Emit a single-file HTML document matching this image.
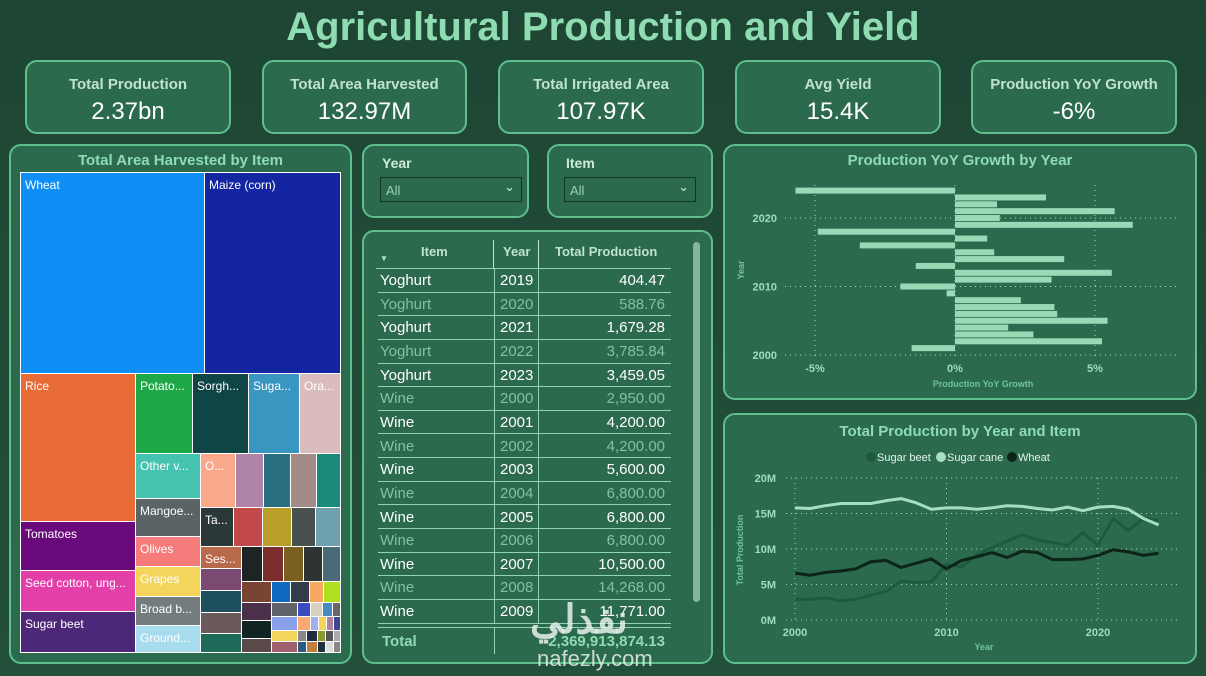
<!DOCTYPE html>
<html><head><meta charset="utf-8"><style>
*{box-sizing:border-box;margin:0;padding:0}
body{width:1206px;height:676px;overflow:hidden;background:linear-gradient(#1e4533,#23503b);font-family:"Liberation Sans","Noto Sans CJK SC",sans-serif;position:relative}
.abs{position:absolute}
.panel{position:absolute;background:#2c6a4e;border:2.5px solid #5fbf8c;border-radius:12px}
.kl{position:absolute;left:0;right:0;top:14px;text-align:center;color:#bfe3cc;font-weight:bold;font-size:15px}
.kv{position:absolute;left:0;right:0;top:36px;text-align:center;color:#fff;font-size:24px}
.ptitle{position:absolute;left:0;right:0;text-align:center;color:#8fdcb3;font-weight:bold;font-size:15px}
.tm{position:absolute;border:1px solid #fff;color:#fff;font-size:12px;padding:5px 0 0 4px;overflow:hidden;white-space:nowrap}
.row{position:absolute;left:378px;width:293px;height:23.6px;border-bottom:1px solid #8fd6b0;font-size:15px}
.row span{position:absolute;top:3px}
.sl{position:absolute;color:#cfe9da;font-weight:bold;font-size:14px}
.dd{position:absolute;border:1px solid #123326;background:#2c6a4e;color:#9fcfb5;font-size:13px;padding:5px 0 0 5px}
</style></head><body>
<div class="abs" style="left:0;width:1206px;top:5px;text-align:center;color:#8fdcb3;font-weight:bold;font-size:40px">Agricultural Production and Yield</div>

<div class="panel" style="left:25px;top:60px;width:206px;height:74px"><div class="kl">Total Production</div><div class="kv">2.37bn</div></div>
<div class="panel" style="left:262px;top:60px;width:205px;height:74px"><div class="kl">Total Area Harvested</div><div class="kv">132.97M</div></div>
<div class="panel" style="left:498px;top:60px;width:206px;height:74px"><div class="kl">Total Irrigated Area</div><div class="kv">107.97K</div></div>
<div class="panel" style="left:735px;top:60px;width:206px;height:74px"><div class="kl">Avg Yield</div><div class="kv">15.4K</div></div>
<div class="panel" style="left:971px;top:60px;width:206px;height:74px"><div class="kl">Production YoY Growth</div><div class="kv">-6%</div></div>

<div class="panel" style="left:9px;top:144px;width:343px;height:520px"><div class="ptitle" style="top:6px">Total Area Harvested by Item</div></div>
<div id="tm"></div>

<div class="panel" style="left:362px;top:144px;width:167px;height:74px"></div>
<div class="sl" style="left:382px;top:155px">Year</div>
<div class="dd" style="left:380px;top:177px;width:142px;height:25px">All<span style="position:absolute;right:6px;top:1px;color:#cfe9da">&#8964;</span></div>
<div class="panel" style="left:547px;top:144px;width:166px;height:74px"></div>
<div class="sl" style="left:566px;top:155px">Item</div>
<div class="dd" style="left:564px;top:177px;width:132px;height:25px">All<span style="position:absolute;right:6px;top:1px;color:#cfe9da">&#8964;</span></div>

<div class="panel" style="left:362px;top:230px;width:351px;height:434px"></div>
<div class="abs" style="left:376px;top:240px;width:295px;height:29px;border-bottom:1px solid #8fd6b0;color:#bfe3cc;font-weight:bold;font-size:13px">
<span class="abs" style="left:45px;top:4px">Item</span><span class="abs" style="left:4px;top:14px;font-size:8px">&#9660;</span>
<span class="abs" style="left:117px;top:0;height:29px;border-left:1px solid #bfe3cc"></span>
<span class="abs" style="left:127px;top:4px">Year</span>
<span class="abs" style="left:162px;top:0;height:29px;border-left:1px solid #bfe3cc"></span>
<span class="abs" style="left:179px;top:4px">Total Production</span>
</div>
<div id="rows"></div>
<div class="abs" style="left:494px;top:269px;width:1px;height:355px;background:#8fd6b0"></div>
<div class="abs" style="left:538px;top:269px;width:1px;height:355px;background:#8fd6b0"></div>
<div class="abs" style="left:378px;top:627px;width:293px;height:28px;border-top:1px solid #8fd6b0;color:#8fdcb3;font-weight:bold;font-size:15px"><span class="abs" style="left:4px;top:5px">Total</span><span class="abs" style="left:116px;top:0;height:26px;border-left:1px solid #8fd6b0"></span><span class="abs" style="right:6px;top:5px">2,369,913,874.13</span></div>
<div class="abs" style="left:693px;top:242px;width:7px;height:360px;border-radius:4px;background:#9cc9b2;opacity:.8"></div>
<div class="abs" style="left:530px;top:600px;color:rgba(230,240,235,.85);font-weight:bold;font-size:40px;line-height:40px">نفذلي</div>
<div class="abs" style="left:537px;top:648px;color:rgba(230,240,235,.85);font-size:22px;line-height:22px">nafezly.com</div>

<div class="panel" style="left:723px;top:144px;width:474px;height:256px"><div class="ptitle" style="top:6px">Production YoY Growth by Year</div></div>
<svg id="bar" class="abs" style="left:0;top:0" width="1206" height="676"></svg>
<div class="panel" style="left:723px;top:413px;width:474px;height:251px"><div class="ptitle" style="top:8px">Total Production by Year and Item</div></div>
<svg id="line" class="abs" style="left:0;top:0" width="1206" height="676"></svg>

<script>
const NS="http://www.w3.org/2000/svg";
// ---- bar chart data ----
const yoyYears=[2001,2002,2003,2004,2005,2006,2007,2008,2009,2010,2011,2012,2013,2014,2015,2016,2017,2018,2019,2020,2021,2022,2023,2024];
const yoyValues=[-1.55,5.25,2.8,1.9,5.45,3.65,3.55,2.35,-0.3,-1.95,3.45,5.6,-1.4,3.9,1.4,-3.4,1.15,-4.9,6.35,1.6,5.7,1.5,3.25,-5.7];
const yoyXTicks=[-5,0,5];
const yoyXLabels=["-5%","0%","5%"];
const yoyYTicks=[2000,2010,2020];
// ---- line chart data ----
const lineYears=[2000,2001,2002,2003,2004,2005,2006,2007,2008,2009,2010,2011,2012,2013,2014,2015,2016,2017,2018,2019,2020,2021,2022,2023,2024];
const sugarBeet=[2.9,2.9,3.1,2.7,2.9,3.5,4.0,5.5,5.3,5.4,7.8,7.5,9.2,10.2,11.1,12.0,11.3,10.9,10.5,12.3,10.5,14.3,12.6,14.3,14.0];
const sugarCane=[15.8,15.7,16.1,16.4,16.4,16.4,16.8,17.1,16.5,15.6,15.8,15.8,15.6,15.8,16.1,16.0,15.7,15.5,15.9,15.4,15.9,16.0,15.6,14.3,13.4];
const wheat=[6.6,6.3,6.7,6.9,7.2,8.2,8.4,7.4,8.0,8.6,7.2,8.4,8.9,9.5,8.8,9.7,9.5,8.5,8.5,8.6,9.1,9.9,9.6,9.1,9.4];
const lineYTicks=[0,5,10,15,20];
const lineXTicks=[2000,2010,2020];
const seriesNames=["Sugar beet","Sugar cane","Wheat"];
// ---- table data ----
const tItems=["Yoghurt","Yoghurt","Yoghurt","Yoghurt","Yoghurt","Wine","Wine","Wine","Wine","Wine","Wine","Wine","Wine","Wine","Wine"];
const tYears=[2019,2020,2021,2022,2023,2000,2001,2002,2003,2004,2005,2006,2007,2008,2009];
const tValues=["404.47","588.76","1,679.28","3,785.84","3,459.05","2,950.00","4,200.00","4,200.00","5,600.00","6,800.00","6,800.00","6,800.00","10,500.00","14,268.00","11,771.00"];

function el(t,a,p){const e=document.createElementNS(NS,t);for(const k in a)e.setAttribute(k,a[k]);p.appendChild(e);return e;}

// bar chart
(function(){
 const s=document.getElementById('bar');
 const x=v=>955+v*28.0, y=yr=>355-(yr-2000)*6.85;
 yoyXTicks.forEach((t,i)=>{el('line',{x1:x(t),x2:x(t),y1:185,y2:357,stroke:'#9fd8b8','stroke-dasharray':'1 4'},s);
  const tx=el('text',{x:x(t),y:372,'text-anchor':'middle',fill:'#9fdcba','font-size':11,'font-weight':'bold','font-family':'Liberation Sans'},s);tx.textContent=yoyXLabels[i];});
 yoyYTicks.forEach(t=>{el('line',{x1:785,x2:1178,y1:y(t),y2:y(t),stroke:'#9fd8b8','stroke-dasharray':'1 4'},s);
  const tx=el('text',{x:777,y:y(t)+4,'text-anchor':'end',fill:'#9fdcba','font-size':11,'font-weight':'bold','font-family':'Liberation Sans'},s);tx.textContent=t;});
 yoyValues.forEach((v,i)=>{const r=el('rect',{x:Math.min(x(0),x(v)),y:y(yoyYears[i])-3,width:Math.abs(x(v)-x(0)),height:6,fill:'#98d9b6'},s);
  
  });
 let t=el('text',{x:983,y:387,'text-anchor':'middle',fill:'#6fc597','font-size':9,'font-weight':'bold','font-family':'Liberation Sans'},s);t.textContent='Production YoY Growth';
 t=el('text',{x:744,y:270,'text-anchor':'middle',fill:'#6fc597','font-size':9,'font-weight':'bold','font-family':'Liberation Sans',transform:'rotate(-90 744 270)'},s);t.textContent='Year';
})();

// line chart
(function(){
 const s=document.getElementById('line');
 const x=yr=>795+(yr-2000)*15.15, y=v=>620-v*7.1;
 lineYTicks.forEach(t=>{el('line',{x1:786,x2:1180,y1:y(t),y2:y(t),stroke:'#9fd8b8','stroke-dasharray':'1 4'},s);
  const tx=el('text',{x:776,y:y(t)+4,'text-anchor':'end',fill:'#9fdcba','font-size':11,'font-weight':'bold','font-family':'Liberation Sans'},s);tx.textContent=t+'M';});
 lineXTicks.forEach(t=>{el('line',{x1:x(t),x2:x(t),y1:478,y2:620,stroke:'#9fd8b8','stroke-dasharray':'1 4'},s);
  const tx=el('text',{x:x(t),y:636,'text-anchor':'middle',fill:'#9fdcba','font-size':11,'font-weight':'bold','font-family':'Liberation Sans'},s);tx.textContent=t;});
 const cols=['#1d5a3f','#a6dfc0','#0d2418'];
 [sugarBeet,sugarCane,wheat].forEach((arr,k)=>{
  const p=el('path',{d:arr.map((v,i)=>(i?'L':'M')+x(lineYears[i])+' '+y(v)).join(''),fill:'none',stroke:cols[k],'stroke-width':3,'stroke-linejoin':'round'},s);
  
  });
 const lx=[871,941,1012];
 seriesNames.forEach((n,k)=>{const g=el('g',{},s);
  
  
  el('circle',{cx:lx[k],cy:457,r:5,fill:cols[k]},g);
  const t=el('text',{x:lx[k]+6,y:461,fill:'#e6f4ec','font-size':11,'font-family':'Liberation Sans'},g);t.textContent=n;});
 let t=el('text',{x:984,y:650,'text-anchor':'middle',fill:'#6fc597','font-size':9,'font-weight':'bold','font-family':'Liberation Sans'},s);t.textContent='Year';
 t=el('text',{x:743,y:550,'text-anchor':'middle',fill:'#6fc597','font-size':9,'font-weight':'bold','font-family':'Liberation Sans',transform:'rotate(-90 743 550)'},s);t.textContent='Total Production';
})();

// table rows
(function(){
 const c=document.getElementById('rows');
 tItems.forEach((it,i)=>{const d=document.createElement('div');d.className='row';
  
  
  d.style.top=(269+i*23.65)+'px';d.style.color=i%2?'#7fc49f':'#fff';
  d.innerHTML='<span style="left:2px">'+it+'</span><span style="left:122px">'+tYears[i]+'</span><span style="right:6px">'+tValues[i]+'</span>';
  c.appendChild(d);});
})();

// treemap
const tmBoxes=[
["Wheat",20,172,204,373,"#0f8ff5"],["Maize (corn)",204,172,340,373,"#1325a0"],
["Rice",20,373,135,521,"#e86b36"],["Tomatoes",20,521,135,570,"#6a0a7a"],["Seed cotton, ung...",20,570,135,611,"#e23fa8"],["Sugar beet",20,611,135,652,"#4e2878"],
["Potato...",135,373,192,453,"#1ea848"],["Sorgh...",192,373,248,453,"#0f4545"],["Suga...",248,373,299,453,"#3896c0"],["Ora...",299,373,340,453,"#dbbcbc"],
["Other v...",135,453,200,498,"#45c2b0"],["Mangoe...",135,498,200,536,"#5a6466"],["Olives",135,536,200,566,"#f67b7b"],["Grapes",135,566,200,596,"#f2d55a"],["Broad b...",135,596,200,625,"#737d7d"],["Ground...",135,625,200,652,"#a6dcee"],
["O...",200,453,235,507,"#f9a98a"],["",235,453,263,507,"#b083a8"],["",263,453,290,507,"#2a6e82"],["",290,453,316,507,"#a38b88"],["",316,453,340,507,"#1b8a7a"],
["Ta...",200,507,233,546,"#2b3838"],["",233,507,262,546,"#c24949"],["",262,507,291,546,"#b89f2a"],["",291,507,315,546,"#4a5050"],["",315,507,340,546,"#6ea0b0"],
["Ses...",200,546,241,568,"#b86a4a"],["",200,568,241,590,"#7b4a72"],["",200,590,241,612,"#1d4f5f"],["",200,612,241,633,"#6a5a5a"],["",200,633,241,652,"#1d6a58"],
["",241,546,262,581,"#1e2424"],["",262,546,283,581,"#7a2e2e"],["",283,546,303,581,"#7a6020"],["",303,546,322,581,"#2e3434"],["",322,546,340,581,"#4a6a78"],
["",241,581,271,602,"#7a4432"],["",271,581,290,602,"#1068c0"],["",290,581,309,602,"#333c48"],["",309,581,323,602,"#f8a860"],["",323,581,340,602,"#aee020"],
["",241,602,271,620,"#4a3048"],["",241,620,271,638,"#102424"],["",241,638,271,652,"#5a4a4a"],
["",271,602,297,616,"#60646a"],["",271,616,297,630,"#8aa0e8"],["",271,630,297,641,"#f2d55a"],["",271,641,297,652,"#a06070"],
["",297,602,310,616,"#3a4ac0"],["",310,602,322,616,"#d8d0c0"],["",322,602,332,616,"#4a8ac0"],["",332,602,340,616,"#666"],
["",297,616,310,630,"#f8a870"],["",310,616,318,630,"#a0b0e8"],["",318,616,326,630,"#f2d55a"],["",326,616,333,630,"#b080a0"],["",333,616,340,630,"#3a4a90"],
["",297,630,306,641,"#888"],["",306,630,317,641,"#1e2d40"],["",317,630,325,641,"#8a9a30"],["",325,630,333,641,"#555"],["",333,630,340,641,"#aaa"],
["",297,641,306,652,"#2a5a80"],["",306,641,317,652,"#c08040"],["",317,641,325,652,"#1e3040"],["",325,641,333,652,"#ddd"],["",333,641,340,652,"#888"]];
(function(){
 const c=document.getElementById('tm');
 tmBoxes.forEach(b=>{const d=document.createElement('div');d.className='tm';
  
  
  d.style.cssText+=`left:${b[1]}px;top:${b[2]}px;width:${b[3]-b[1]+1}px;height:${b[4]-b[2]+1}px;background:${b[5]}`;
  d.textContent=b[0];c.appendChild(d);});
})();
</script>
</body></html>
